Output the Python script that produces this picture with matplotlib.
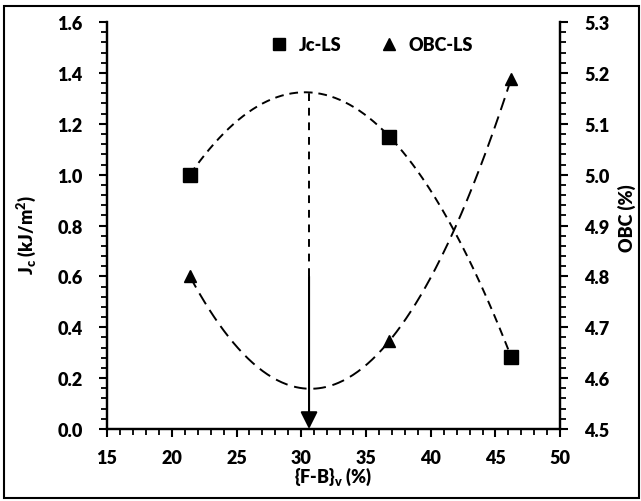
import numpy as np
import matplotlib
matplotlib.use('Agg')
import matplotlib.pyplot as plt
from matplotlib.ticker import MultipleLocator, FormatStrFormatter
from matplotlib.patches import Rectangle

# %% Data
fb_v = [21.4, 36.8, 46.2]          # {F-B}v (%)
jc_ls = [1.00, 1.15, 0.285]         # Jc (kJ/m2)
obc_ls = [4.80, 4.673, 5.188]       # OBC (%)
x_opt = 30.6                        # position of the arrow
jc_arrow_start = 0.6

plt.rcParams['font.family'] = ['Lato', 'DejaVu Sans']
plt.rcParams['font.weight'] = 800
plt.rcParams['mathtext.default'] = 'regular'
fs = 13
fw = 800

fig = plt.figure(figsize=(6.41, 5.02), dpi=100)
ax = fig.add_axes([0.167, 0.1434, 0.707, 0.8106])
ax2 = ax.twinx()

# %% Quadratic trendlines (2nd order, as in the original)
xx = np.linspace(min(fb_v), max(fb_v), 200)
p_jc = np.polyfit(fb_v, jc_ls, 2)
p_obc = np.polyfit(fb_v, obc_ls, 2)
ax.plot(xx, np.polyval(p_jc, xx), color='black', lw=1.4, dashes=(4.5, 3))
ax2.plot(xx, np.polyval(p_obc, xx), color='black', lw=1.4, dashes=(6.5, 3.5))

h1, = ax.plot(fb_v, jc_ls, 's', color='black', ms=10, label='Jc-LS')
h2, = ax2.plot(fb_v, obc_ls, '^', color='black', ms=9, label='OBC-LS')

# arrow marking the optimum
jc_top = np.polyval(p_jc, x_opt)
ax.plot([x_opt, x_opt], [jc_arrow_start, jc_top], color='black', lw=1.4, dashes=(4, 3.5))
ax.annotate('', xy=(x_opt, 0.0), xytext=(x_opt, jc_arrow_start),
            arrowprops=dict(arrowstyle='-|>', color='black', lw=1.5,
                            mutation_scale=26, shrinkA=0, shrinkB=0))

# %% Axes formatting
ax.set_xlim(15, 50)
ax.set_ylim(0, 1.6)
ax2.set_ylim(4.5, 5.3)
ax.xaxis.set_major_locator(MultipleLocator(5))
ax.xaxis.set_minor_locator(MultipleLocator(1))
ax.yaxis.set_major_locator(MultipleLocator(0.2))
ax.yaxis.set_minor_locator(MultipleLocator(0.04))
ax2.yaxis.set_major_locator(MultipleLocator(0.1))
ax2.yaxis.set_minor_locator(MultipleLocator(0.02))
ax.yaxis.set_major_formatter(FormatStrFormatter('%.1f'))
ax2.yaxis.set_major_formatter(FormatStrFormatter('%.1f'))

for a in (ax, ax2):
    a.spines['top'].set_visible(False)
    for s in a.spines.values():
        s.set_linewidth(1.6)
    a.tick_params(which='major', direction='out', length=5.5, width=1.5,
                  color='black', labelsize=fs, pad=12)
    a.tick_params(which='minor', direction='out', length=4, width=1.3, color='black')
ax.tick_params(axis='x', which='major', pad=9)
ax.tick_params(axis='y', which='both', right=False)

ax.set_xlabel('{F-B}$_v$ (%)', fontsize=fs, fontweight=fw, labelpad=-1)
ax.set_ylabel('J$_c$ (kJ/m$^2$)', fontsize=fs, fontweight=fw)
ax2.set_ylabel('OBC (%)', fontsize=fs, fontweight=fw)
ax.yaxis.set_label_coords(-0.152, 0.48)
ax2.yaxis.set_label_coords(1.128, 0.52)

ax.legend([h1, h2], ['Jc-LS', 'OBC-LS'], loc='upper center', bbox_to_anchor=(0.574, 1.005),
          ncol=2, frameon=False, handletextpad=0.1, columnspacing=1.6,
          prop={'size': fs, 'weight': fw}, markerscale=0.9)

for a in (ax, ax2):
    for lbl in a.get_xticklabels() + a.get_yticklabels():
        lbl.set_fontweight(fw)

# outer border of the chart area
fig.patches.append(Rectangle((0.006, 0.006), 0.991, 0.98, transform=fig.transFigure,
                             fill=False, edgecolor='black', lw=1.5))

plt.savefig('out.png', dpi=100)
